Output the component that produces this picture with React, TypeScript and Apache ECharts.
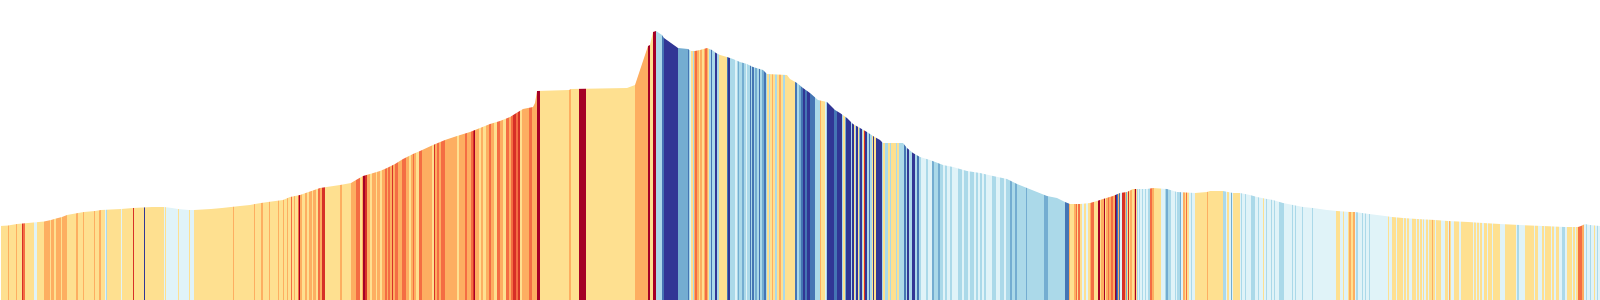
import React, { useEffect, useRef } from "react";
import * as echarts from "echarts";

// Distance unit: 100 m (0 … 1600), elevation in metres.
const DIST_MAX = 1600;
const ELEV_MAX = 3000;

// Elevation profile (outline)
const profileDist = [
  0, 8, 17, 28, 44, 51, 56, 62, 67, 78, 84, 95, 101, 121, 133, 152, 164, 172, 178, 189, 194, 211, 222, 231, 240, 250,
  255, 261, 268, 283, 290, 300, 320, 340, 351, 356, 363, 370, 380, 387, 395, 403, 413, 420, 433, 445, 457, 470, 480,
  490, 500, 510, 518, 523, 533, 535, 537, 569, 571, 627, 635, 648, 650, 653, 656, 662, 664, 678, 688, 691, 695, 700,
  707, 712, 716, 720, 727, 733, 740, 747, 753, 763, 767, 787, 790, 797, 803, 810, 818, 827, 835, 840, 847, 853, 860,
  867, 873, 880, 883, 903, 907, 913, 920, 930, 943, 953, 967, 980, 993, 1007, 1017, 1027, 1037, 1047, 1057, 1065,
  1070, 1080, 1090, 1097, 1103, 1113, 1120, 1127, 1133, 1147, 1153, 1167, 1177, 1195, 1207, 1210, 1223, 1233, 1240,
  1250, 1257, 1267, 1273, 1283, 1293, 1303, 1313, 1327, 1337, 1350, 1355, 1362, 1369, 1377, 1385, 1392, 1403, 1417,
  1435, 1448, 1468, 1483, 1500, 1520, 1543, 1565, 1578, 1581, 1585, 1590, 1600,
];
const profileElev = [
  740, 745, 760, 770, 785, 800, 815, 830, 850, 870, 880, 890, 900, 910, 920, 930, 930, 920, 910, 900, 900, 910, 920,
  930, 940, 950, 960, 970, 980, 1000, 1030, 1050, 1120, 1150, 1170, 1200, 1240, 1260, 1290, 1320, 1360, 1410, 1460,
  1490, 1550, 1600, 1640, 1680, 1720, 1760, 1790, 1830, 1880, 1910, 1930, 1970, 2090, 2100, 2110, 2120, 2150, 2540,
  2550, 2680, 2690, 2650, 2620, 2520, 2510, 2490, 2490, 2500, 2520, 2500, 2470, 2450, 2430, 2410, 2380, 2360, 2330,
  2300, 2260, 2250, 2210, 2170, 2120, 2070, 2000, 1980, 1900, 1870, 1820, 1760, 1720, 1680, 1640, 1600, 1570, 1570,
  1520, 1470, 1430, 1400, 1350, 1330, 1290, 1270, 1240, 1210, 1160, 1120, 1080, 1040, 1020, 980, 960, 960, 970, 990,
  1010, 1040, 1070, 1080, 1110, 1110, 1120, 1110, 1080, 1070, 1080, 1090, 1090, 1070, 1070, 1050, 1030, 1010, 1000,
  970, 950, 930, 920, 900, 890, 880, 880, 870, 860, 850, 840, 830, 820, 810, 800, 790, 780, 770, 760, 750, 740, 730,
  730, 740, 760, 750, 740,
];

// Grade classes: 5 steep up … 1 gentle up, -1 gentle down … -5 steep down
const gradeClasses = [5, 4, 3, 2, 1, -1, -2, -3, -4, -5];
const gradePalette = [
  "#a50026", "#d73027", "#f46d43", "#fdae61", "#fee090",
  "#e0f3f8", "#abd9e9", "#74add1", "#4575b4", "#313695",
];

// Stripes: [start distance, grade class]
const stripes: [number, number][] = [
  [1,1],[8,2],[9,1],[16,2],[17,1],[22,4],[23,3],[25,1],[34,-1],[37,1],[44,2],[50,1],[51,2],[54,1],[56,2],[61,1],[62,2],[67,1],[76,2],[78,1],[83,2],[84,1],[94,2],[95,1],[99,2],[101,1],[105,-1],[106,-2],[107,1],[121,-1],[122,1],[133,4],[134,1],[144,-5],[145,1],[164,-1],[165,1],[166,-1],[178,1],[179,-1],[189,1],[190,-1],[194,1],[233,2],[234,1],[254,2],[255,1],[261,2],[263,1],[269,2],
  [270,1],[278,2],[279,1],[283,2],[284,1],[287,2],[288,1],[291,3],[292,1],[294,2],[295,1],[298,3],[299,5],[300,2],[302,1],[305,2],[307,1],[309,2],[312,1],[313,2],[316,1],[318,3],[320,2],[322,4],[325,1],[340,2],[342,1],[351,2],[356,3],[360,1],[362,2],[363,5],[365,4],[367,2],[370,1],[372,2],[376,1],[377,2],[380,1],[382,2],[385,3],[387,2],[388,3],[390,2],[392,4],[393,2],[395,3],[398,2],[402,3],[406,2],[409,1],[411,2],[413,3],[414,2],[416,1],[419,3],[422,2],[432,1],[434,4],[435,2],[437,3],[439,2],[441,3],[445,2],[457,1],[459,2],[465,3],[467,2],[471,3],[473,4],[474,5],[475,2],[479,1],[481,2],[483,1],[486,2],[489,3],[491,2],[494,1],[497,3],[500,2],[503,1],[506,3],[509,2],[511,3],[513,4],[516,3],[518,4],[520,1],[522,2],[529,3],[532,2],[537,5],
  [540,1],[569,2],[571,1],[579,5],[586,1],[635,2],[648,5],[650,1],[653,5],[656,-2],[662,-4],[664,-5],[678,-3],[688,-4],[689,-2],[690,-1],[691,1],[693,-2],[694,2],[695,3],[697,2],[699,1],[700,2],[702,1],[704,2],[705,3],[707,2],[708,1],[709,-2],[711,-4],[712,-2],[715,-5],[717,-2],[719,1],[727,-4],[728,-5],[730,-2],[735,-1],[737,-2],[738,-3],[739,-2],[742,-3],[744,-2],[746,-1],[747,-2],[750,-4],[751,-2],[752,-4],[754,-2],[755,-3],[757,-2],[759,-4],[760,-2],[762,-3],[764,-4],[766,-2],[767,1],[769,-2],[770,1],[772,2],[773,1],[775,-2],[777,1],[779,2],[781,1],[783,-2],[785,1],[795,-4],[797,-2],[799,-3],[801,-4],[803,-5],[805,-4],[807,-5],
  [810,-4],[815,-2],[820,2],[821,1],[825,-1],[826,-2],[827,-5],[834,-4],[837,-5],[842,-2],[843,1],[845,-3],[846,-5],[851,-2],[852,-5],[854,1],[855,-2],[856,-5],[858,1],[859,-3],[860,-5],[862,-2],[863,1],[864,4],[865,-5],[867,-2],[869,-4],[870,-2],[872,1],[873,-5],[874,1],[876,-5],[882,-2],[883,1],[885,-2],[888,1],[890,-2],[891,1],[896,-2],[897,1],[899,-2],[904,-4],[906,-2],[907,-5],[909,-2],[912,-5],[915,-2],[917,-4],[919,-2],[921,-1],[926,-2],[928,-1],[932,-3],[934,-2],[938,-3],[940,-2],[943,-1],[945,-2],[947,-1],[950,-2],[952,-1],[958,-2],[962,-1],[964,-2],[968,-1],[970,-2],[974,-1],[976,-2],[978,-1],[980,-2],[982,-1],[984,-2],[986,-1],[992,-2],[996,-1],[1000,-2],[1004,-1],[1006,-2],[1010,-3],[1012,-2],[1015,-3],[1017,-2],[1026,-3],[1027,-2],[1044,-3],[1048,-2],[1065,-4],[1069,2],[1070,1],[1074,2],[1076,3],[1077,1],[1078,3],
  [1080,1],[1082,-1],[1084,1],[1086,-1],[1088,1],[1090,2],[1091,3],[1094,1],[1098,5],[1100,1],[1101,2],[1104,5],[1105,1],[1106,2],[1108,3],[1109,2],[1111,3],[1113,2],[1115,5],[1116,-5],[1117,-4],[1118,2],[1119,-4],[1120,-1],[1122,4],[1125,2],[1126,-3],[1127,1],[1128,4],[1129,1],[1130,2],[1132,1],[1134,2],[1135,5],[1136,1],[1137,-2],[1138,-1],[1139,-2],[1140,-1],[1142,-2],[1143,-1],[1145,-2],[1146,-1],[1148,-2],[1150,3],[1152,2],[1154,1],[1161,-1],[1165,-2],[1166,-3],[1168,-2],[1171,-1],[1175,-2],[1176,-1],[1177,-2],[1180,-3],[1181,-1],[1183,2],[1185,1],[1186,3],[1187,1],[1189,-1],[1191,-2],[1192,-1],[1195,1],[1207,2],[1208,1],[1223,-2],[1226,-1],[1227,1],[1229,-1],[1231,-3],[1232,-1],[1233,1],[1240,-1],[1241,-2],[1242,-1],[1245,-2],[1246,-1],[1251,-2],[1255,-1],[1258,-2],[1259,-1],[1263,1],[1264,-1],[1266,-2],[1267,-1],[1271,-2],[1272,-1],[1274,-2],[1275,-1],[1279,-2],[1284,-1],[1292,-2],[1293,-1],[1295,-2],[1296,-1],[1302,-2],[1303,-1],[1312,-2],[1313,-1],[1336,1],[1340,-1],[1343,1],[1344,-1],
  [1348,1],[1349,2],[1351,1],[1353,2],[1355,-1],[1356,-2],[1358,-1],[1362,-2],[1363,-1],[1365,-2],[1366,-1],[1369,-2],[1370,-1],[1388,1],[1389,-1],[1392,1],[1396,-1],[1397,1],[1403,-1],[1404,1],[1406,-1],[1407,1],[1409,-1],[1412,1],[1416,-1],[1417,1],[1419,-1],[1420,1],[1422,-1],[1423,1],[1424,-1],[1426,1],[1428,-1],[1429,1],[1432,2],[1433,1],[1435,-1],[1436,1],[1441,-1],[1445,1],[1448,-1],[1449,2],[1450,1],[1451,-1],[1454,1],[1459,-1],[1461,1],[1473,-1],[1474,1],[1476,-1],[1477,1],[1479,-1],[1480,1],[1482,-1],[1484,1],[1487,-1],[1488,1],[1492,-1],[1493,1],[1500,-1],[1505,1],[1516,-1],[1517,-2],[1519,-1],[1525,1],[1534,-1],[1535,1],[1538,-1],[1542,1],[1544,-1],[1545,1],[1551,-1],[1552,1],[1554,-1],[1556,1],[1559,-1],[1562,-2],[1565,-1],[1567,1],[1572,-1],[1573,1],[1575,-1],[1576,1],[1578,3],[1582,2],[1584,-1],[1586,-2],[1587,-1],[1590,-2],[1591,-1],[1594,1],[1595,-1],[1597,-2],[1598,-1],
];

function gradeColor(g: number): string {
  const i = gradeClasses.indexOf(g);
  return i >= 0 ? gradePalette[i] : "#fee090";
}

export default function App() {
  const ref = useRef<HTMLDivElement>(null);
  useEffect(() => {
    if (!ref.current) return;
    const chart = echarts.init(ref.current, null, { renderer: "svg" });
    const stripeData = stripes.map((s, i) => [
      s[0],
      i + 1 < stripes.length ? stripes[i + 1][0] : DIST_MAX,
      s[1],
    ]);
    const profileData = profileDist.map((d, i) => [d, profileElev[i]]);
    chart.setOption({
      animation: false,
      grid: { left: 0, right: 0, top: 0, bottom: 0, containLabel: false },
      xAxis: { type: "value", min: 0, max: DIST_MAX, show: false },
      yAxis: { type: "value", min: 0, max: ELEV_MAX, show: false },
      series: [
        {
          type: "custom",
          silent: true,
          z: 1,
          data: stripeData,
          encode: { x: [0, 1] },
          renderItem: (params: any, api: any) => {
            const a = api.coord([api.value(0), 0]);
            const b = api.coord([api.value(1), ELEV_MAX]);
            const x0 = Math.round(a[0]);
            const x1 = Math.round(b[0]);
            return {
              type: "rect",
              shape: { x: x0, y: b[1], width: Math.max(1, x1 - x0), height: a[1] - b[1] },
              style: { fill: gradeColor(api.value(2)) },
            };
          },
        },
        {
          type: "line",
          silent: true,
          z: 3,
          data: profileData,
          symbol: "none",
          lineStyle: { width: 0, opacity: 0 },
          areaStyle: { color: "#ffffff", opacity: 1, origin: "end" },
        },
      ],
    });
    return () => chart.dispose();
  }, []);
  return (
    <div
      ref={ref}
      style={{ position: "absolute", left: 0, top: 0, width: 1600, height: 300, background: "#fff" }}
    />
  );
}
